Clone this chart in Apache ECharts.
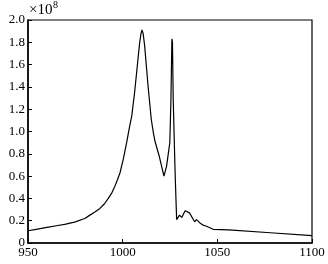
<!DOCTYPE html>
<html><head><meta charset="utf-8">
<script src="https://cdn.jsdelivr.net/npm/echarts@6/dist/echarts.min.js"></script>
<style>html,body{margin:0;padding:0;background:#fff}#c{width:328px;height:264px}</style>
</head><body><div id="c"></div>
<script>
const xValues = [950,955,960,965,970,975,980,982.7,985.5,988,990.3,992.4,994.3,995.9,997.3,998.6,1000.3,1002.1,1003.5,1004.8,1006.3,1008.1,1009,1009.7,1010.2,1010.8,1011.6,1013.4,1015.1,1016.2,1017.1,1019.3,1021.8,1023.2,1024.9,1025.5,1026,1026.3,1026.7,1027.6,1028.1,1028.5,1030,1031.2,1033,1034,1035.3,1037,1038,1039,1040.8,1042.5,1044.3,1047.8,1056,1078,1100];
const yValues = [0.11,0.125,0.14,0.155,0.17,0.19,0.22,0.25,0.28,0.31,0.35,0.40,0.45,0.51,0.57,0.63,0.75,0.90,1.03,1.14,1.35,1.65,1.80,1.88,1.91,1.88,1.77,1.41,1.11,0.99,0.91,0.78,0.60,0.69,0.90,1.29,1.83,1.80,1.29,0.69,0.42,0.21,0.25,0.23,0.29,0.30,0.27,0.22,0.19,0.21,0.18,0.16,0.15,0.123,0.118,0.092,0.066];
const xTicks = [950,1000,1050,1100];
const yTicks = [0,0.2,0.4,0.6,0.8,1.0,1.2,1.4,1.6,1.8,2.0];
const scaleLabel = '×10';
const scaleExp = '8';

const chart = echarts.init(document.getElementById('c'));
const font = 'Liberation Serif';
chart.setOption({
  animation:false,
  grid:{left:28,right:16,top:20,bottom:21,show:true,borderColor:'#000',borderWidth:1.2},
  xAxis:{type:'value',min:xTicks[0],max:xTicks[xTicks.length-1],interval:50,
    axisLine:{lineStyle:{color:'#000',width:1.5}},
    axisTick:{inside:true,length:4,lineStyle:{color:'#000'}},
    splitLine:{show:false},
    axisLabel:{color:'#000',fontFamily:font,fontSize:13,margin:3,formatter:v=>String(v)}},
  yAxis:{type:'value',min:yTicks[0],max:yTicks[yTicks.length-1],interval:0.2,
    axisLine:{show:true,lineStyle:{color:'#000',width:1.5}},
    axisTick:{show:true,inside:true,length:4,lineStyle:{color:'#000'}},
    splitLine:{show:false},
    axisLabel:{color:'#000',fontFamily:font,fontSize:13,margin:3,
      formatter:v=>v===0?'0':v.toFixed(1)}},
  graphic:[
    {type:'text',left:29,top:3,style:{text:scaleLabel,font:'15px "Liberation Serif"',fill:'#000'}},
    {type:'text',left:53,top:0,style:{text:scaleExp,font:'10px "Liberation Serif"',fill:'#000'}}
  ],
  series:[{type:'line',data:xValues.map((x,i)=>[x,yValues[i]]),showSymbol:false,
    lineStyle:{color:'#000',width:1.2}}]
});
</script></body></html>
